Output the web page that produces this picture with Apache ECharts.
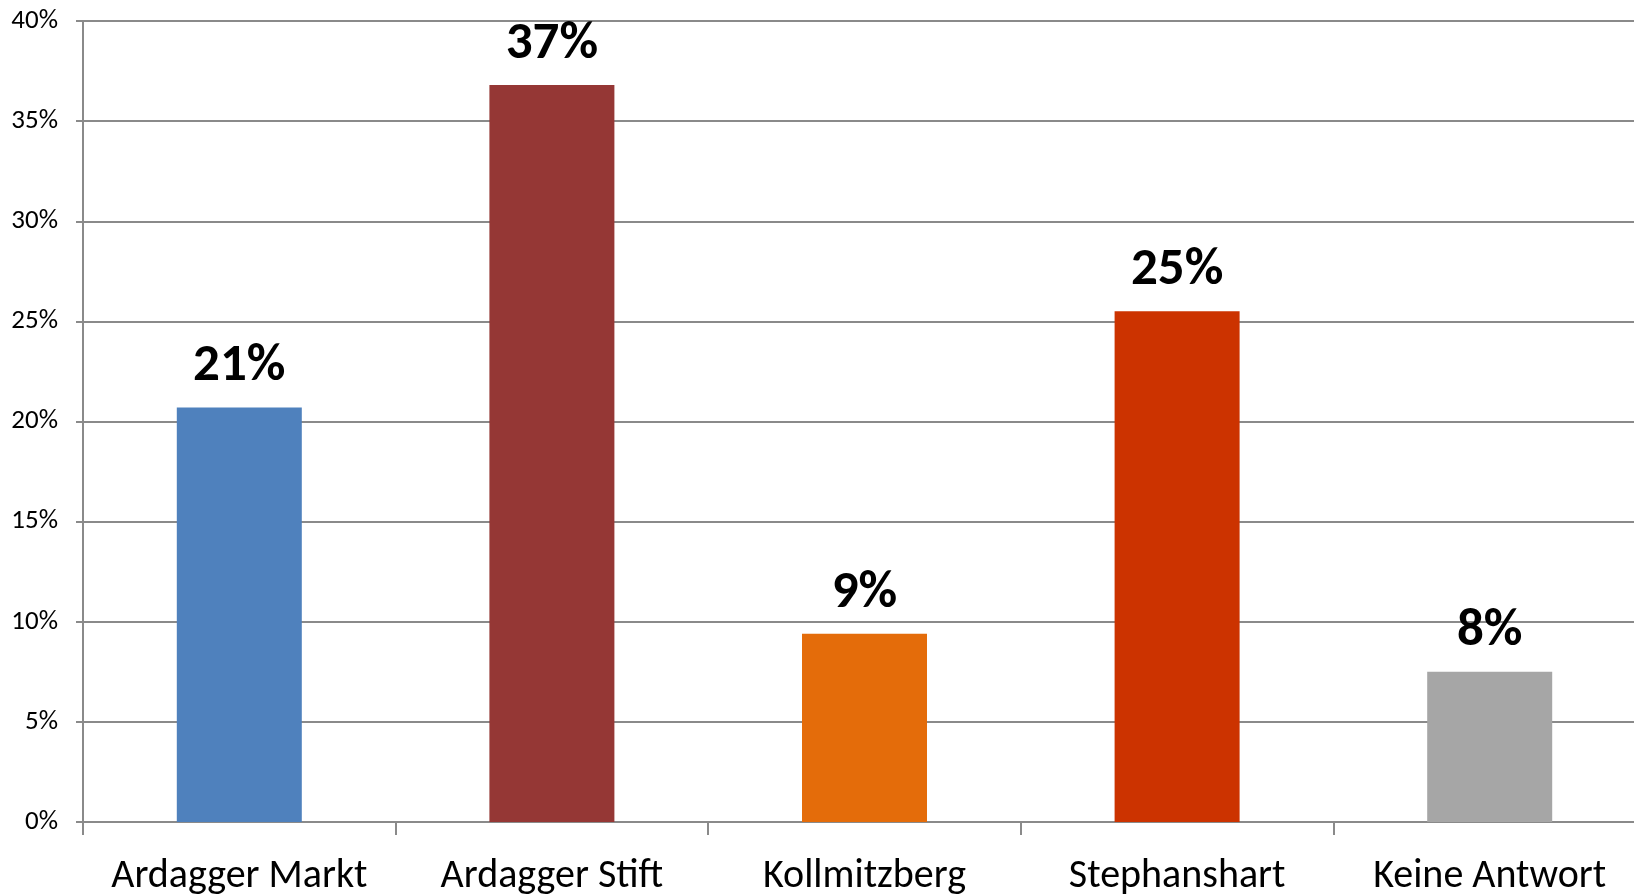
<!DOCTYPE html>
<html lang="de">
<head>
	<meta charset="UTF-8">
	<title>Ortsteil</title>
	<script src="https://cdn.jsdelivr.net/npm/echarts@6/dist/echarts.min.js"></script>
	<style>
		html, body { margin: 0; padding: 0; background: #fff; }
		#chart { width: 1634px; height: 894px; }
	</style>
</head>
<body>
<div id="chart"></div>
<script>
	// Daten
	var categories = ['Ardagger Markt', 'Ardagger Stift', 'Kollmitzberg', 'Stephanshart', 'Keine Antwort'];
	var values = [20.7, 36.8, 9.4, 25.5, 7.5];
	var valueLabels = ['21%', '37%', '9%', '25%', '8%'];
	var barColors = ['#4F81BD', '#953735', '#E46C0A', '#CC3300', '#A6A6A6'];
	var yTicks = [0, 5, 10, 15, 20, 25, 30, 35, 40];

	var font = 'Carlito, "Open Sans", sans-serif';
	var gray = '#8a8a8a';

	var chart = echarts.init(document.getElementById('chart'));
	chart.setOption({
		animation: false,
		textStyle: { fontFamily: font },
		// Grafik ragt rechts etwas über den Rand hinaus
		grid: { left: 83, top: 21, bottom: 72, width: 1563, containLabel: false, outerBoundsMode: 'none' },
		xAxis: {
			type: 'category',
			data: categories,
			axisLine: { lineStyle: { color: gray, width: 2 } },
			axisTick: { show: true, interval: 0, length: 13, lineStyle: { color: gray, width: 2 } },
			axisLabel: { color: '#000', fontSize: 40, fontFamily: font, margin: 35, interval: 0 }
		},
		yAxis: {
			type: 'value',
			min: yTicks[0],
			max: yTicks[yTicks.length - 1],
			interval: 5,
			axisLine: { show: true, lineStyle: { color: gray, width: 2 } },
			axisTick: { show: true, length: 7, lineStyle: { color: gray, width: 2 } },
			axisLabel: { color: '#000', fontSize: 27, fontFamily: font, margin: 25, formatter: '{value}%' },
			splitLine: { lineStyle: { color: gray, width: 2 } }
		},
		series: [{
			type: 'bar',
			barWidth: 125,
			data: values.map(function (v, i) {
				return { value: v, itemStyle: { color: barColors[i] } };
			}),
			label: {
				show: true,
				position: 'top',
				distance: 14,
				color: '#000',
				fontSize: 53,
				fontWeight: 'bold',
				fontFamily: font,
				formatter: function (p) { return valueLabels[p.dataIndex]; }
			}
		}]
	});
</script>
</body>
</html>
